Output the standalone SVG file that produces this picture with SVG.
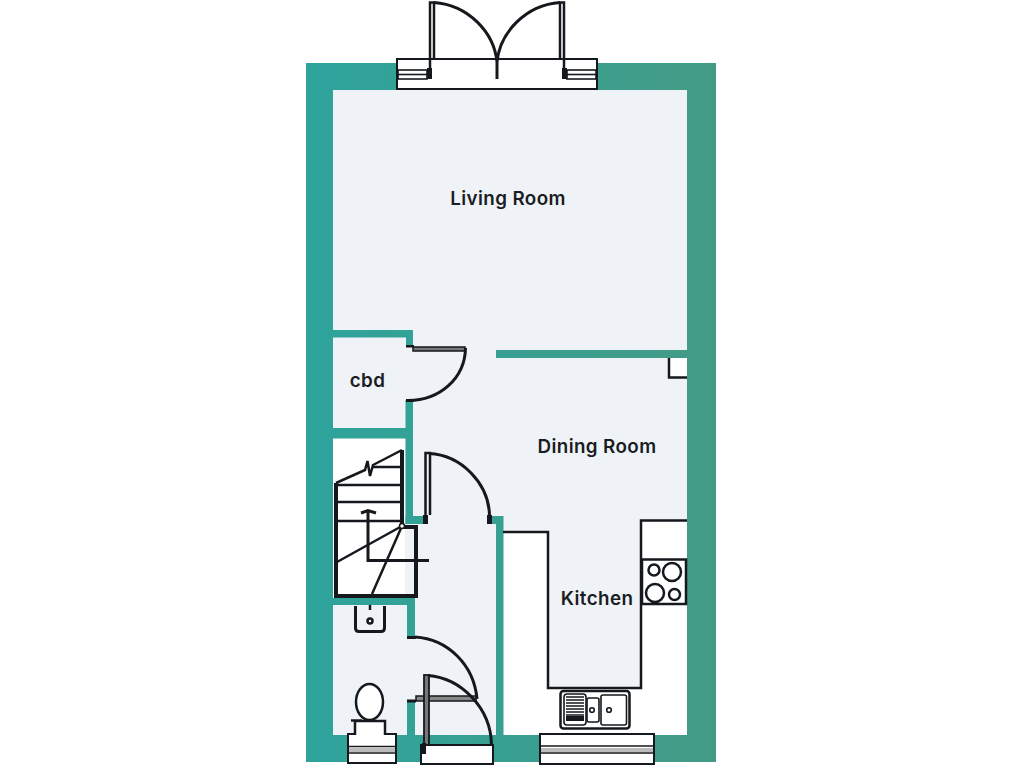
<svg xmlns="http://www.w3.org/2000/svg" width="1024" height="768" viewBox="0 0 1024 768">
<defs>
<linearGradient id="wallGrad" gradientUnits="userSpaceOnUse" x1="306" y1="0" x2="716" y2="0"><stop offset="0" stop-color="#2ea49d"/><stop offset="1" stop-color="#439b85"/></linearGradient>
</defs>
<style>
.wall{fill:url(#wallGrad)}
.floor{fill:#eff3f8}
.white{fill:#fff}
.l{fill:none;stroke:#15181c;stroke-width:2.500}
.m{fill:none;stroke:#15181c;stroke-width:3}
.t{fill:none;stroke:#15181c;stroke-width:1.600}
.k{fill:#15181c}
.label{font-family:Inter,"Noto Sans",sans-serif;font-weight:600;fill:#1a1d22;text-anchor:middle;font-size:18.800px;letter-spacing:.4px}
</style>
<rect width="1024" height="768" fill="#fff"/>
<g id="shell">
<path class="wall" fill-rule="evenodd" d="M306 63H716V762H306Z M333 90V735H687V90Z"/>
<rect class="floor" x="333" y="90" width="354" height="645"/>
<path class="white" d="M333 438H405V598H333Z"/>
<path class="white" d="M503 532H548V688H640V520H687V735H503Z"/>
</g>
<g id="walls">
<rect class="wall" x="333" y="330" width="80" height="7.500"/>
<rect class="wall" x="406" y="330" width="7" height="16"/>
<rect class="wall" x="405.500" y="400" width="7.500" height="124"/>
<rect class="wall" x="333" y="428" width="80" height="10.500"/>
<rect class="wall" x="405.500" y="516" width="20" height="8"/>
<rect class="wall" x="488" y="516" width="15" height="8"/>
<rect class="wall" x="496" y="516" width="7.500" height="220"/>
<rect class="wall" x="333" y="598" width="82" height="7"/>
<rect class="wall" x="407" y="598" width="8" height="40"/>
<rect class="wall" x="407" y="700" width="8" height="36"/>
<rect class="wall" x="496" y="350" width="191" height="8"/>
</g>
<g id="alcove">
<path d="M669 358V377.500H687V358Z" fill="#fff"/>
<path class="l" d="M669 358V377.500H687"/>
</g>
<g id="living-room-doors">
<rect x="397" y="59" width="200" height="30" fill="#fff" stroke="#15181c" stroke-width="2"/>
<rect class="t" x="398" y="70" width="29" height="9"/>
<path class="t" d="M398 74.500H427"/>
<rect class="t" x="567" y="70" width="29" height="9"/>
<path class="t" d="M567 74.500H596"/>
<path class="k" d="M427 68h5v11h-5z M562 68h5v11h-5z"/>
<path class="l" d="M430 68V2.500H434V60M564 68V2.500H560V60"/>
<path class="m" d="M434 2.500C468 5 494 32 497 62V79M560 2.500C526 5 500 32 497 62"/>
</g>
<g id="cupboard-door">
<rect class="k" x="406" y="345" width="8" height="2.500"/>
<rect class="k" x="406" y="399" width="8" height="3"/>
<rect x="413" y="347" width="52" height="4" fill="#777" stroke="#15181c" stroke-width="1.500"/>
<path class="m" d="M465.500 348C465 378 440 401 407 400.500" stroke-width="2.400"/>
</g>
<g id="stairs">
<path class="l" d="M336 485H402M336 502H402M336 521H402M373 467H402"/>
<path stroke="#15181c" stroke-width="2.500" fill="none" d="M336 483L365 470L367.500 461L370 476L373 465L402 450"/>
<path d="M336 483V596H416V527H402V450" fill="none" stroke="#15181c" stroke-width="4"/>
<path class="m" d="M368 512V560.500H429M361 513L368 510.500L376 513"/>
<path class="l" d="M402 526L337 562M402 526L372 594"/>
<circle cx="402" cy="526" r="2.500" fill="#fff" stroke="#15181c" stroke-width="1.500"/>
</g>
<g id="hall-door">
<rect class="k" x="423" y="515" width="5" height="9"/>
<rect class="k" x="487" y="515" width="5" height="9"/>
<path class="l" d="M425.500 515V453H430V515"/>
<path class="m" d="M429 453.500C461 455 489 483 489.500 516"/>
</g>
<g id="wc-door">
<rect class="k" x="407" y="636" width="9" height="3"/>
<rect class="k" x="407" y="699.500" width="9" height="3"/>
<rect x="416" y="696" width="60" height="5" fill="#888" stroke="#15181c" stroke-width="1.500"/>
<path class="m" d="M415 637C448 639 474 665 477 699"/>
</g>
<g id="entrance-door">
<rect x="421" y="745" width="72" height="19" fill="#fff" stroke="#15181c" stroke-width="2"/>
<rect x="424" y="675" width="5" height="70" fill="#777" stroke="#15181c" stroke-width="1.800"/>
<rect class="k" x="422" y="743" width="4" height="11"/>
<path class="m" d="M428 675.500C461 678 491 708 491.500 745"/>
</g>
<g id="wc-window">
<rect x="348" y="734" width="48" height="29" fill="#fff" stroke="#15181c" stroke-width="2"/>
<path class="t" d="M349 746.500H395M349 753H395"/>
<rect x="349" y="748" width="46" height="4" fill="#bbb"/>
</g>
<g id="kitchen-window">
<rect x="540" y="734" width="114" height="30" fill="#fff" stroke="#15181c" stroke-width="2"/>
<path class="t" d="M541 746H653M541 753H653"/>
<rect x="541" y="748" width="112" height="4" fill="#bbb"/>
</g>
<g id="kitchen-units">
<path class="l" d="M503 532H548V688H641V520.500H687"/>
<rect x="642" y="559.500" width="44" height="44.500" fill="#fff" stroke="#15181c" stroke-width="2.500"/>
<circle class="l" cx="654" cy="570" r="5.500"/>
<circle class="l" cx="672" cy="572" r="9"/>
<circle class="l" cx="655" cy="593" r="9"/>
<circle class="l" cx="674.500" cy="594.500" r="5.500"/>
</g>
<g id="kitchen-sink">
<rect class="l" x="560.500" y="691" width="69" height="37.500" rx="3"/>
<rect class="t" x="564" y="694" width="22" height="31" rx="3"/>
<rect class="t" x="587" y="698" width="12" height="24" rx="2"/>
<rect class="t" x="601" y="695" width="25.500" height="30" rx="2"/>
<path class="t" d="M566 697H584M566 700H584M566 703H584M566 706H584M566 709H584M566 712H584M566 715H584" stroke-width="1.100"/>
<rect class="k" x="566" y="716" width="18" height="5"/>
<circle class="t" cx="592" cy="710" r="2.300"/>
<circle class="t" cx="609" cy="710" r="2.300"/>
</g>
<g id="basin">
<path class="m" d="M355.500 606V628Q355.500 631.500 359 631.500H381Q384.500 631.500 384.500 628V606" stroke-width="2.400"/>
<circle class="l" cx="370" cy="621" r="2.500"/>
<path class="l" d="M370 605V610"/>
</g>
<g id="toilet">
<ellipse class="l" cx="369.500" cy="702" rx="13.500" ry="18" style="fill:#fff"/>
<path class="l" d="M355 735V721H385V735M351 720.500H362" style="fill:#fff"/>
</g>
<g id="labels">
<text class="label" x="508" y="204.500">Living Room</text>
<text class="label" x="367.500" y="386.500">cbd</text>
<text class="label" x="597" y="452.500">Dining Room</text>
<text class="label" x="597" y="604.500">Kitchen</text>
</g>
</svg>
